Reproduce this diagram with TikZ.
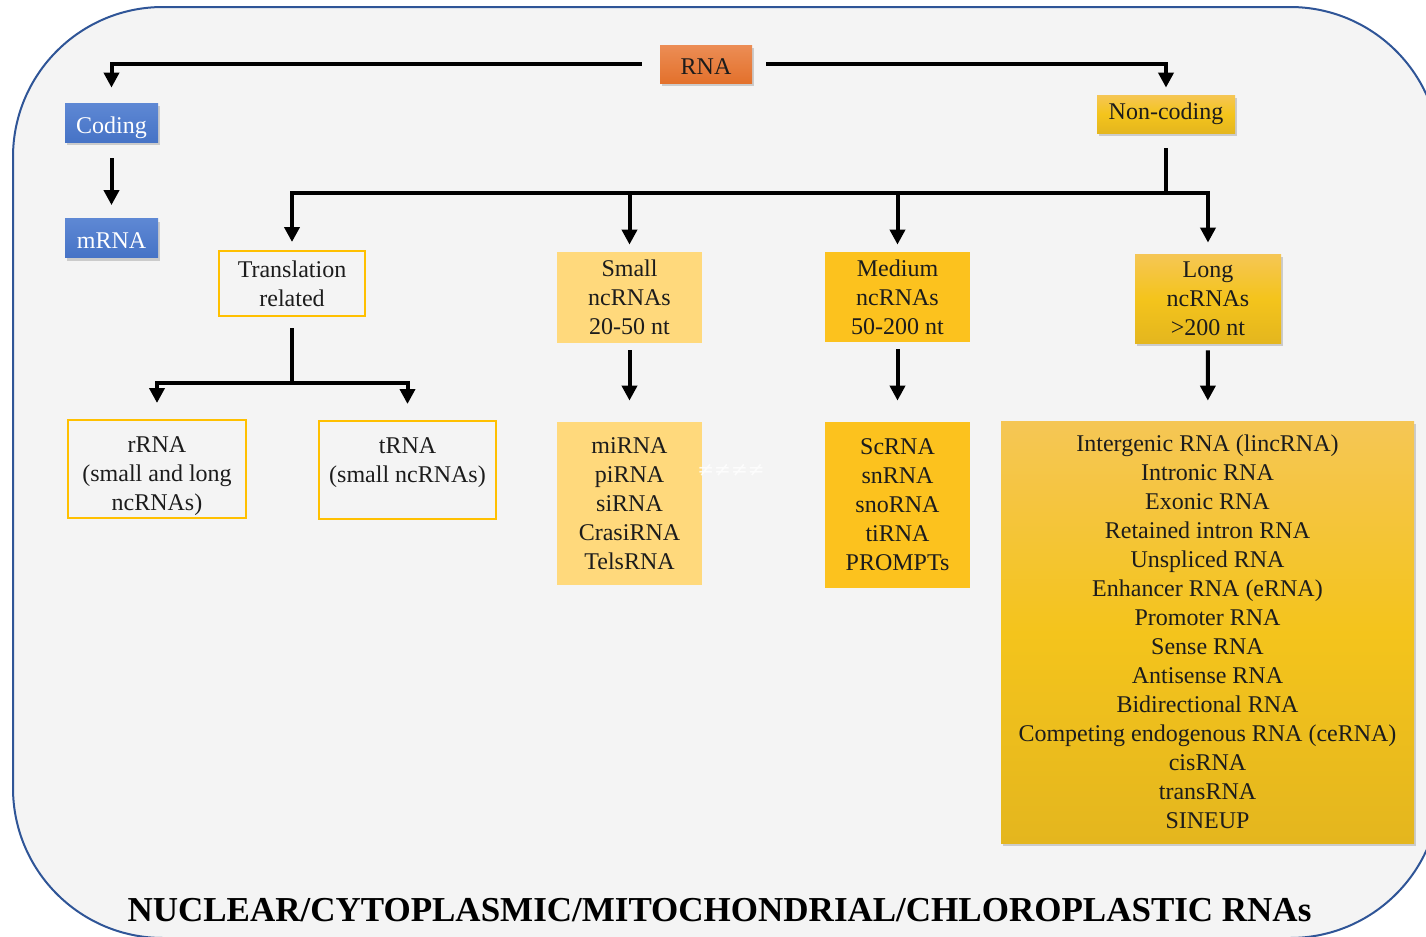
\documentclass[tikz,border=0pt]{standalone}
\usepackage{fontspec}
\setmainfont{Liberation Serif}
\newfontfamily\neqfont{DejaVu Sans}
\usepackage{xcolor}
\usetikzlibrary{arrows.meta,positioning,shadows}
\definecolor{rnaframe}{HTML}{2F5597}
\definecolor{rnabg}{HTML}{F4F4F4}
\definecolor{rnablue}{HTML}{4673C6}
\definecolor{rnabluetop}{HTML}{5E88D4}
\definecolor{rnaorange}{HTML}{E3712C}
\definecolor{rnaorangetop}{HTML}{EC8D55}
\definecolor{rnagold}{HTML}{E4B61E}
\definecolor{rnagoldmid}{HTML}{F4C41C}
\definecolor{rnagoldtop}{HTML}{F5C655}
\definecolor{rnapale}{HTML}{FFD97C}
\definecolor{rnamedium}{HTML}{FCC21E}
\definecolor{rnaedge}{HTML}{FFC000}
\definecolor{rnaink}{HTML}{1C1C1C}

\begin{document}
\begin{tikzpicture}[
  x=0.5pt,y=-0.5pt,
  font=\fontsize{12}{14.5}\selectfont,
  every node/.style={text=rnaink,align=center,inner sep=2pt},
  boxshadow/.style={drop shadow={opacity=0.35,shadow xshift=1pt,shadow yshift=-1.6pt}},
  bluebox/.style={boxshadow,top color=rnabluetop,bottom color=rnablue,text=white,minimum width=46.5pt,minimum height=19.5pt,text height=10.5pt,text depth=0pt},
  orangebox/.style={boxshadow,top color=rnaorangetop,bottom color=rnaorange,minimum width=46pt,minimum height=19pt,text height=10.5pt,text depth=0pt},
  goldbox/.style={boxshadow,top color=rnagoldtop,bottom color=rnagold,middle color=rnagoldmid},
  edgebox/.style={draw=rnaedge,line width=1pt,fill=rnabg},
  palebox/.style={fill=rnapale,minimum width=72.5pt},
  mediumbox/.style={fill=rnamedium,minimum width=72.5pt},
  link/.style={draw=black,line width=2pt},
  arr/.style={link,-{Triangle[length=7.5pt,width=7.5pt]}}
]
\useasboundingbox (0,0) rectangle (1426,937);
\draw[rnaframe,line width=1pt,fill=rnabg,rounded corners=75pt] (13,7) rectangle (1440,938);

% top level
\node[orangebox] (rna) at (706,64) {RNA};
\node[bluebox] (coding) at (111.5,122.5) {Coding};
\node[bluebox] (mrna) at (111.5,238) {mRNA};
\node[goldbox,minimum width=69pt,minimum height=19pt] (noncoding) at (1166,114) {Non-coding};

% second level
\node[edgebox,minimum width=73pt,minimum height=32.5pt] (transl) at (292,283.5) {Translation\\related};
\node[palebox,minimum height=45.5pt] (small) at (629.5,297.5) {Small\\ncRNAs\\20-50 nt};
\node[mediumbox,minimum height=45pt] (medium) at (897.5,297) {Medium\\ncRNAs\\50-200 nt};
\node[goldbox,minimum width=73pt,minimum height=44.5pt] (long) at (1208,298.5) {Long\\ncRNAs\\>200 nt};

% third level
\node[edgebox,minimum width=89pt,minimum height=49pt,inner ysep=0.5pt] (rrna) at (157,469) {\rule{0pt}{15pt}rRNA\\(small and long\\ncRNAs)};
\node[edgebox,minimum width=88.5pt,minimum height=49pt] (trna) at (407.5,470) {\rule{0pt}{12pt}tRNA\\(small ncRNAs)\\~};
\node[palebox,minimum height=81.5pt] (smalllist) at (629.5,503.5) {miRNA\\piRNA\\siRNA\\CrasiRNA\\TelsRNA};
\node[mediumbox,minimum height=83pt] (mediumlist) at (897.5,505) {ScRNA\\snRNA\\snoRNA\\tiRNA\\PROMPTs};
\node[goldbox,minimum width=206.5pt,minimum height=211pt] (longlist) at (1207.5,632) {Intergenic RNA (lincRNA)\\Intronic RNA\\Exonic RNA\\Retained intron RNA\\Unspliced RNA\\Enhancer RNA (eRNA)\\Promoter RNA\\Sense RNA\\Antisense RNA\\Bidirectional RNA\\Competing endogenous RNA (ceRNA)\\cisRNA\\transRNA\\SINEUP};
\node[text=white,opacity=0.8,font=\neqfont\fontsize{10}{12}\selectfont] (neqmark) at (731,470) {≠≠≠≠};

\node[font=\bfseries\fontsize{17.5}{20}\selectfont,text=black] (title) at (719.5,910) {NUCLEAR/CYTOPLASMIC/MITOCHONDRIAL/CHLOROPLASTIC RNAs};

% connectors
\coordinate (bus) at (1166,193);
\coordinate (tbus) at (292,383);
\draw[arr,shorten <=9pt,shorten >=7.5pt] (rna.west) -| (coding.north);
\draw[arr,shorten <=7pt,shorten >=3.5pt] (rna.east) -| (noncoding.north);
\draw[arr,shorten <=8pt,shorten >=6.5pt] (coding) -- (mrna);
\draw[link,shorten <=7.5pt] (noncoding.south) -- (bus);
\draw[arr,shorten >=4pt] (bus) -| (transl.north);
\draw[arr,shorten >=3.5pt] (bus) -| (small.north);
\draw[arr,shorten >=3.5pt] (bus) -| (medium.north);
\draw[arr,shorten >=5.5pt] (bus) -| (long.north);
\draw[link,shorten <=5.5pt] (transl.south) -- (tbus);
\draw[arr,shorten >=8pt] (tbus) -| (rrna.north);
\draw[arr,shorten >=8pt] (tbus) -| (trna.north);
\draw[arr,shorten <=3.5pt,shorten >=10.5pt] (small) -- (smalllist);
\draw[arr,shorten <=3.5pt,shorten >=10.5pt] (medium) -- (mediumlist);
\draw[arr,shorten <=3.5pt,shorten >=10pt] (long) -- (longlist);
\end{tikzpicture}
\end{document}
